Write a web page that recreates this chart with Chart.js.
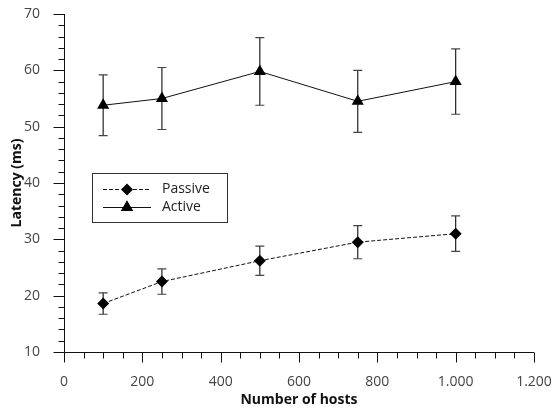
<!DOCTYPE html>
<html>
<head>
<meta charset="utf-8">
<script src="https://cdn.jsdelivr.net/npm/chart.js@4/dist/chart.umd.min.js"></script>
<style>
html,body{margin:0;padding:0;background:#fff;}
#wrap{width:554px;height:409px;}
</style>
</head>
<body>
<div id="wrap"><canvas id="c" width="554" height="409"></canvas></div>
<script>
const hosts = [100, 250, 500, 750, 1000];
const passive = [18.6, 22.5, 26.2, 29.5, 31.0];
const passiveErr = [1.9, 2.25, 2.6, 2.95, 3.15];
const active = [53.8, 55.0, 59.8, 54.5, 58.0];
const activeErr = [5.4, 5.5, 6.0, 5.5, 5.8];
const seriesNames = ['Passive', 'Active'];
const xTitle = 'Number of hosts';
const yTitle = 'Latency (ms)';

const FONT = "'Open Sans', 'DejaVu Sans', sans-serif";

function fmt(v) {
  return String(v).replace(/\B(?=(\d{3})+(?!\d))/g, '.');
}

const errors = [passiveErr, activeErr];

const errorBarPlugin = {
  id: 'errorBars',
  beforeDatasetsDraw(chart) {
    const ctx = chart.ctx, xs = chart.scales.x, ys = chart.scales.y;
    ctx.save();
    chart.data.datasets.forEach((ds, i) => {
      const err = errors[i];
      ds.data.forEach((p, j) => {
        const x = xs.getPixelForValue(p.x);
        const yt = ys.getPixelForValue(p.y + err[j]);
        const yb = ys.getPixelForValue(p.y - err[j]);
        ctx.strokeStyle = '#222';
        ctx.lineWidth = 1.2;
        ctx.beginPath();
        ctx.moveTo(x, yt); ctx.lineTo(x, yb);
        ctx.stroke();
        ctx.strokeStyle = '#444';
        ctx.beginPath();
        ctx.moveTo(x - 4.5, yt); ctx.lineTo(x + 4.5, yt);
        ctx.moveTo(x - 4.5, yb); ctx.lineTo(x + 4.5, yb);
        ctx.stroke();
      });
    });
    ctx.restore();
  }
};

const axesPlugin = {
  id: 'axesTicks',
  beforeDatasetsDraw(chart) {
    const ctx = chart.ctx, xs = chart.scales.x, ys = chart.scales.y;
    const a = chart.chartArea;
    ctx.save();
    ctx.strokeStyle = '#111';
    ctx.lineWidth = 1;
    ctx.beginPath();
    const bx = Math.round(a.left) + 0.5, by = Math.round(a.bottom) + 0.5;
    ctx.moveTo(bx, a.top); ctx.lineTo(bx, by); ctx.lineTo(a.right, by);
    for (let v = 0; v <= 1200; v += 50) {
      const x = Math.round(xs.getPixelForValue(v)) + 0.5;
      const len = v % 200 === 0 ? 10 : 6;
      ctx.moveTo(x, by); ctx.lineTo(x, by + len);
    }
    for (let v = 10; v <= 70; v += 2) {
      const y = Math.round(ys.getPixelForValue(v)) + 0.5;
      const len = v % 10 === 0 ? 11 : 6;
      ctx.moveTo(bx, y); ctx.lineTo(bx - len, y);
    }
    ctx.stroke();
    ctx.restore();
  }
};

const legendPlugin = {
  id: 'boxLegend',
  afterDatasetsDraw(chart) {
    const ctx = chart.ctx;
    ctx.save();
    const bx = 92, by = 173, bw = 135, bh = 49;
    ctx.fillStyle = '#fff';
    ctx.fillRect(bx, by, bw, bh);
    ctx.strokeStyle = '#333';
    ctx.lineWidth = 1;
    ctx.strokeRect(bx + 0.5, by + 0.5, bw, bh);
    const rows = [189.5, 207.5];
    chart.data.datasets.forEach((ds, i) => {
      const y = rows[i];
      ctx.strokeStyle = '#111';
      ctx.lineWidth = 1;
      ctx.setLineDash(ds.borderDash || []);
      ctx.beginPath();
      ctx.moveTo(103, y); ctx.lineTo(151, y);
      ctx.stroke();
      ctx.setLineDash([]);
      Chart.helpers.drawPoint(ctx, {pointStyle: ds.pointStyle, radius: ds.pointRadius, borderWidth: 0}, 127, y);
      ctx.fillStyle = '#000';
      ctx.fill();
      ctx.fillStyle = '#222';
      ctx.font = '14px ' + FONT;
      ctx.textBaseline = 'middle';
      ctx.textAlign = 'left';
      ctx.fillText(ds.label, 162, y);
    });
    ctx.restore();
  }
};

const toPts = (ys) => hosts.map((h, i) => ({x: h, y: ys[i]}));

function zeroPad(s) {
  s.paddingTop = 0; s.paddingBottom = 0; s.paddingLeft = 0; s.paddingRight = 0;
}

new Chart(document.getElementById('c'), {
  type: 'line',
  data: {
    datasets: [
      {
        label: seriesNames[0],
        data: toPts(passive),
        borderColor: '#111',
        borderWidth: 1,
        borderDash: [4, 2],
        pointStyle: 'rectRot',
        pointRadius: 6,
        pointBackgroundColor: '#000',
        pointBorderColor: '#000',
        pointBorderWidth: 0,
        tension: 0
      },
      {
        label: seriesNames[1],
        data: toPts(active),
        borderColor: '#111',
        borderWidth: 1,
        pointStyle: 'triangle',
        pointRadius: 7,
        pointBackgroundColor: '#000',
        pointBorderColor: '#000',
        pointBorderWidth: 0,
        tension: 0
      }
    ]
  },
  options: {
    responsive: false,
    animation: false,
    events: [],
    layout: {padding: {left: 0, right: 20, top: 14, bottom: 0}},
    plugins: {legend: {display: false}, tooltip: {enabled: false}},
    scales: {
      x: {
        type: 'linear',
        min: 0, max: 1200,
        grid: {display: false},
        border: {display: false},
        afterFit(s) { s.height = 57; zeroPad(s); },
        ticks: {
          stepSize: 200,
          maxRotation: 0,
          padding: 14,
          color: '#444',
          font: {family: FONT, size: 14},
          callback: (v) => fmt(v)
        },
        title: {
          display: true, text: xTitle, color: '#111',
          font: {family: FONT, size: 14, weight: 'bold'},
          padding: {top: 0, bottom: 1}
        }
      },
      y: {
        min: 10, max: 70,
        grid: {display: false},
        border: {display: false},
        afterFit(s) { s.width = 64; zeroPad(s); },
        ticks: {
          stepSize: 10,
          padding: 16,
          color: '#444',
          font: {family: FONT, size: 14}
        },
        title: {
          display: true, text: yTitle, color: '#111',
          font: {family: FONT, size: 14, weight: 'bold'},
          padding: {top: 9, bottom: 0}
        }
      }
    }
  },
  plugins: [axesPlugin, errorBarPlugin, legendPlugin]
});
</script>
</body>
</html>
